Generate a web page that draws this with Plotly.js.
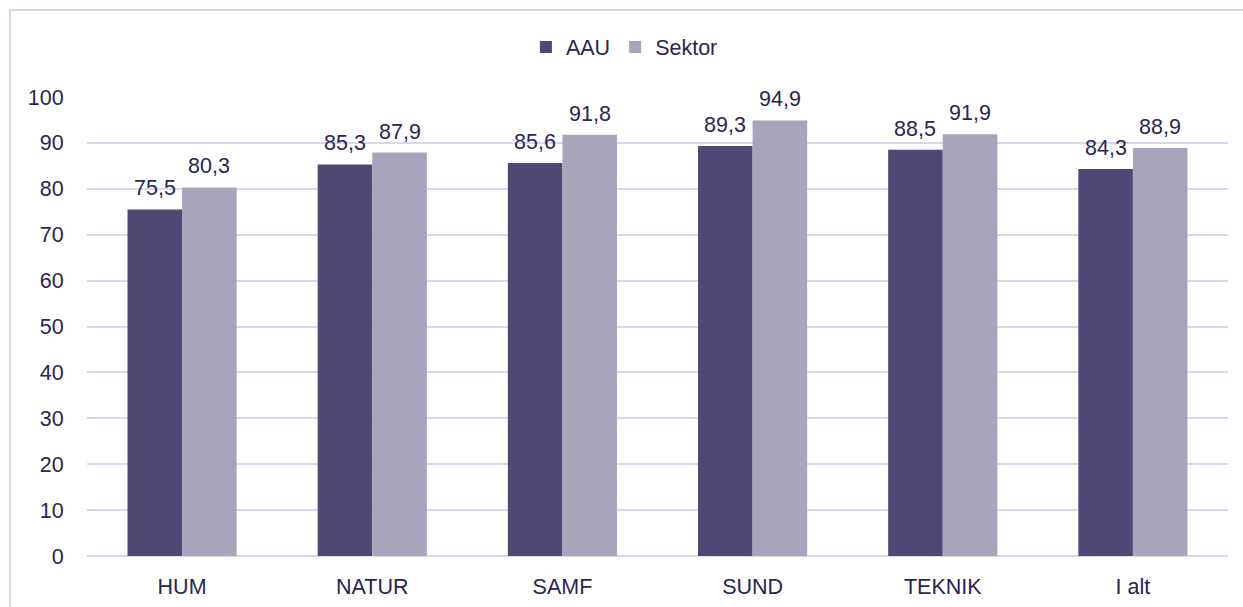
<!DOCTYPE html>
<html>
<head>
<meta charset="utf-8">
<script src="https://cdn.plot.ly/plotly-3.0.1.min.js"></script>
<style>
  html, body { margin: 0; padding: 0; background: #fff; overflow: hidden; }
  #frame { position: absolute; left: 9px; top: 9px; width: 1250px; height: 620px;
           border-left: 2px solid #D9D6F0; border-top: 2px solid #D9D6F0; box-sizing: border-box; }
  #chart { position: absolute; left: 0; top: 0; width: 1243px; height: 607px; }
</style>
</head>
<body>
<div id="frame"></div>
<div id="chart"></div>
<script>
const categories = ["HUM", "NATUR", "SAMF", "SUND", "TEKNIK", "I alt"];
const aauValues = [75.5, 85.3, 85.6, 89.3, 88.5, 84.3];
const sektorValues = [80.3, 87.9, 91.8, 94.9, 91.9, 88.9];
const seriesNames = ["AAU", "Sektor"];
const yTicks = [0, 10, 20, 30, 40, 50, 60, 70, 80, 90, 100];

const textColor = "#2A2550";
const FS = 21.5;
const fmt = v => v.toFixed(1).replace(".", ",");
const barGap = 0.426;
const half = (1 - barGap) / 4;

const traces = [
  { type: "bar", name: seriesNames[0], x: categories, y: aauValues,
    marker: { color: "#4E4874" }, hoverinfo: "skip" },
  { type: "bar", name: seriesNames[1], x: categories, y: sektorValues,
    marker: { color: "#A8A4BB" }, hoverinfo: "skip" }
];

const annotations = [];
[aauValues, sektorValues].forEach((vals, s) => {
  vals.forEach((v, i) => {
    annotations.push({
      x: i + (s === 0 ? -half : half), y: v, xref: "x", yref: "y",
      text: fmt(v), showarrow: false, yanchor: "bottom", yshift: 7,
      font: { family: "Liberation Sans, Arial, sans-serif", size: FS, color: textColor }
    });
  });
});

const layout = {
  width: 1243, height: 607,
  margin: { l: 87, r: 15, t: 97, b: 51 },
  paper_bgcolor: "rgba(0,0,0,0)",
  plot_bgcolor: "rgba(0,0,0,0)",
  barmode: "group",
  bargap: barGap,
  bargroupgap: 0,
  font: { family: "Liberation Sans, Arial, sans-serif", size: FS, color: textColor },
  showlegend: true,
  legend: { orientation: "h", x: 0.471, xanchor: "center", y: 1.109, yanchor: "middle",
            font: { size: FS, color: textColor }, itemwidth: 20, tracegroupgap: 0 },
  xaxis: { type: "category", showgrid: false, zeroline: false, showline: false,
           ticks: "outside", ticklen: 11, tickcolor: "rgba(0,0,0,0)",
           tickfont: { size: FS, color: textColor }, fixedrange: true },
  yaxis: { range: [0, 100], tickvals: yTicks, ticktext: yTicks.map(String),
           showgrid: true, gridcolor: "#D9D6F0", gridwidth: 2,
           zeroline: true, zerolinecolor: "#D9D6F0", zerolinewidth: 2,
           showline: false, ticks: "outside", ticklen: 18, tickcolor: "rgba(0,0,0,0)",
           tickfont: { size: FS, color: textColor }, fixedrange: true },
  annotations: annotations
};

Plotly.newPlot("chart", traces, layout, { displayModeBar: false, staticPlot: true });
</script>
</body>
</html>
